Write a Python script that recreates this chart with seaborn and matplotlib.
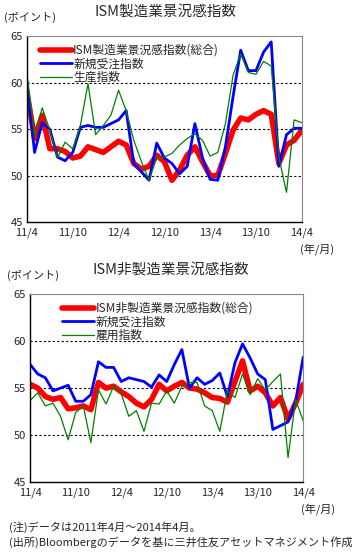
import seaborn as sns
import matplotlib.pyplot as plt
import pandas as pd

# months from 2011/4 to 2014/4
months = list(range(37))
tick_pos = [0, 6, 12, 18, 24, 30, 36]
tick_labels = ["11/4", "11/10", "12/4", "12/10", "13/4", "13/10", "14/4"]

# ISM manufacturing
mfg_pmi = [59.0, 54.0, 56.5, 52.9, 52.9, 52.6, 51.9, 52.1, 53.1, 52.8, 52.5, 53.1,
           53.7, 53.3, 51.3, 50.7, 51.0, 52.2, 51.5, 49.5, 50.6, 52.2, 53.1, 51.5,
           50.0, 50.0, 52.4, 54.9, 56.2, 56.0, 56.6, 57.0, 56.6, 51.3, 53.3, 53.8, 54.9]
mfg_orders = [60.0, 52.5, 55.7, 55.0, 52.0, 51.6, 52.5, 55.2, 55.4, 55.2, 55.2, 55.6,
              56.0, 57.0, 51.3, 50.4, 49.5, 53.5, 51.9, 51.3, 50.2, 51.0, 55.6, 51.9,
              49.6, 49.5, 53.1, 58.5, 63.5, 61.3, 61.3, 63.3, 64.4, 51.0, 54.4, 55.1, 55.1]
mfg_prod = [61.0, 54.2, 57.3, 54.9, 51.9, 53.6, 52.9, 55.4, 59.9, 54.4, 55.4, 56.5,
            59.2, 57.0, 53.8, 51.5, 49.5, 51.9, 52.0, 52.4, 53.3, 54.0, 54.5, 53.8,
            52.1, 52.5, 55.6, 60.8, 63.1, 61.1, 60.9, 62.3, 61.8, 52.0, 48.2, 56.0, 55.7]

# ISM non-manufacturing
nmf_pmi = [55.4, 55.0, 54.1, 53.8, 54.0, 52.8, 52.9, 53.1, 52.7, 55.6, 55.0, 55.2,
           54.6, 54.1, 53.4, 53.0, 53.8, 55.4, 54.7, 55.2, 55.6, 55.0, 54.9, 54.5,
           54.0, 53.9, 53.5, 55.7, 57.9, 54.7, 55.2, 54.5, 53.1, 54.0, 51.7, 53.4, 55.4]
nmf_orders = [57.5, 56.5, 56.1, 54.7, 55.0, 55.3, 53.6, 53.6, 54.3, 57.8, 57.2, 57.2,
              55.7, 56.1, 55.9, 55.7, 55.1, 56.4, 55.7, 57.5, 59.1, 55.0, 56.1, 55.4,
              55.8, 56.6, 54.1, 57.7, 59.7, 58.2, 56.5, 55.9, 50.6, 51.0, 51.4, 53.6, 58.3]
nmf_emp = [53.7, 54.5, 53.1, 53.4, 52.0, 49.5, 52.4, 53.1, 49.2, 54.8, 53.3, 55.2,
           54.4, 52.0, 52.6, 50.4, 53.4, 53.3, 54.7, 53.4, 55.2, 55.6, 55.6, 53.1,
           52.6, 50.4, 54.7, 54.0, 56.5, 54.3, 56.0, 54.8, 55.7, 56.5, 47.6, 53.8, 51.5]

sns.set_style("white")
plt.rcParams["font.family"] = ["Noto Sans CJK JP", "DejaVu Sans"]

RED, BLUE, GREEN = "#FF0000", "#0000FF", "#008000"


def draw_panel(ax, names, series, legend_x):
    df = pd.DataFrame({"month": months * 3,
                       "value": series[0] + series[1] + series[2],
                       "series": [names[0]] * 37 + [names[1]] * 37 + [names[2]] * 37})
    sns.lineplot(data=df, x="month", y="value", hue="series", size="series",
                 palette={names[0]: RED, names[1]: BLUE, names[2]: GREEN},
                 sizes={names[0]: 4.0, names[1]: 2.0, names[2]: 0.9},
                 hue_order=names, size_order=names, ax=ax)
    for v in [50, 55, 60]:
        ax.axhline(v, color="black", lw=0.8, ls=(0, (2, 2)), zorder=0)
    ax.set_xlim(0, 36)
    ax.set_ylim(45, 65)
    ax.set_yticks([45, 50, 55, 60, 65])
    ax.set_xticks(tick_pos)
    ax.set_xticklabels(tick_labels)
    ax.tick_params(axis="x", direction="in", length=3, labelsize=8, pad=4, color="black")
    ax.tick_params(axis="y", length=0, labelsize=8, pad=3)
    ax.set_xlabel("")
    ax.set_ylabel("")
    for s in ["left", "bottom"]:
        ax.spines[s].set_color("black")
        ax.spines[s].set_linewidth(1.0)
    for s in ["top", "right"]:
        ax.spines[s].set_color("#888888")
        ax.spines[s].set_linewidth(0.8)
    handles, labels = ax.get_legend_handles_labels()
    ax.legend(handles, labels, loc="upper left", bbox_to_anchor=(legend_x, 1.0),
              frameon=False, fontsize=8.5, handlelength=2.7, handletextpad=0.1,
              labelspacing=0.05, borderaxespad=0.25)


fig = plt.figure(figsize=(3.64, 5.58), dpi=100)
ax1 = fig.add_axes([0.074, 0.602, 0.755, 0.333])
ax2 = fig.add_axes([0.083, 0.136, 0.750, 0.337])

draw_panel(ax1, ["ISM製造業景況感指数(総合)", "新規受注指数", "生産指数"],
           [mfg_pmi, mfg_orders, mfg_prod], 0.02)
draw_panel(ax2, ["ISM非製造業景況感指数(総合)", "新規受注指数", "雇用指数"],
           [nmf_pmi, nmf_orders, nmf_emp], 0.09)

fig.text(0.455, 0.978, "ISM製造業景況感指数", ha="center", va="center", fontsize=10.5)
fig.text(0.01, 0.968, "(ポイント)", ha="left", va="center", fontsize=8)
fig.text(0.87, 0.553, "(年/月)", ha="center", va="center", fontsize=8)

fig.text(0.47, 0.515, "ISM非製造業景況感指数", ha="center", va="center", fontsize=10.5)
fig.text(0.02, 0.506, "(ポイント)", ha="left", va="center", fontsize=8)
fig.text(0.875, 0.088, "(年/月)", ha="center", va="center", fontsize=8)

fig.text(0.025, 0.056, "(注)データは2011年4月～2014年4月。", ha="left", va="center", fontsize=8)
fig.text(0.025, 0.028, "(出所)Bloombergのデータを基に三井住友アセットマネジメント作成",
         ha="left", va="center", fontsize=8)

fig.savefig("out.png", dpi=100)
